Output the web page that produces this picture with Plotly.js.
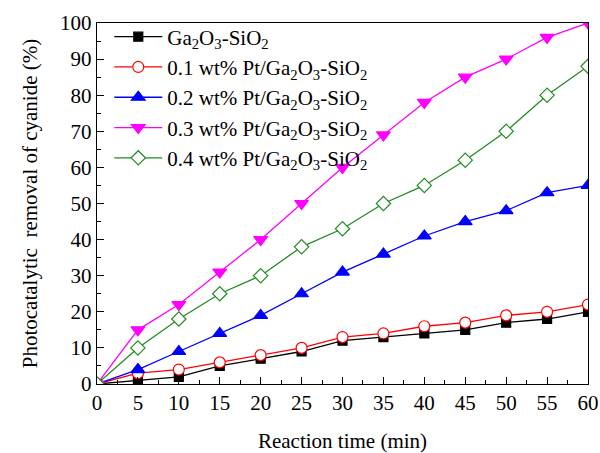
<!DOCTYPE html>
<html>
<head>
<meta charset="utf-8">
<script src="https://cdn.plot.ly/plotly-3.0.1.min.js"></script>
<style>
  html, body { margin: 0; padding: 0; background: #fff; }
  #chart { width: 600px; height: 453px; }
</style>
</head>
<body>
<div id="chart"></div>
<script>
// Reaction time (min)
const time = [0, 5, 10, 15, 20, 25, 30, 35, 40, 45, 50, 55, 60];

// Photocatalytic removal of cyanide (%) for each catalyst
const gaSi   = [0, 1, 2, 5, 7, 9, 12, 13, 14, 15, 17, 18, 20];
const pt01   = [0, 3, 4, 6, 8, 10, 13, 14, 16, 17, 19, 20, 22];
const pt02   = [0, 4, 9, 14, 19, 25, 31, 36, 41, 45, 48, 53, 55];
const pt03   = [0, 15, 22, 31, 40, 50, 60, 69, 78, 85, 90, 96, 100];
const pt04   = [0, 10, 18, 25, 30, 38, 43, 50, 55, 62, 70, 80, 88];

const seriesNames = [
  'Ga<sub>2</sub>O<sub>3</sub>-SiO<sub>2</sub>',
  '0.1 wt% Pt/Ga<sub>2</sub>O<sub>3</sub>-SiO<sub>2</sub>',
  '0.2 wt% Pt/Ga<sub>2</sub>O<sub>3</sub>-SiO<sub>2</sub>',
  '0.3 wt% Pt/Ga<sub>2</sub>O<sub>3</sub>-SiO<sub>2</sub>',
  '0.4 wt% Pt/Ga<sub>2</sub>O<sub>3</sub>-SiO<sub>2</sub>'
];

const xTicks = [0, 5, 10, 15, 20, 25, 30, 35, 40, 45, 50, 55, 60];
const yTicks = [0, 10, 20, 30, 40, 50, 60, 70, 80, 90, 100];

function trace(y, name, color, symbol, size, fill) {
  return {
    x: time, y: y, name: name, type: 'scatter', mode: 'lines+markers',
    cliponaxis: true,
    line: { color: color, width: 1.3 },
    marker: {
      symbol: symbol, size: size, color: fill,
      line: { color: color, width: 1.2 }
    }
  };
}

const data = [
  trace(gaSi, seriesNames[0], '#000000', 'square', 9, '#000000'),
  trace(pt01, seriesNames[1], '#ff0000', 'circle', 11, '#ffffff'),
  trace(pt02, seriesNames[2], '#0000ff', 'triangle-up', 12, '#0000ff'),
  trace(pt03, seriesNames[3], '#ff00ff', 'triangle-down', 12, '#ff00ff'),
  trace(pt04, seriesNames[4], '#228b22', 'diamond', 11, '#ffffff')
];

const font = { family: '"Liberation Serif", "Times New Roman", serif', color: '#000' };
const fs = 21;

const layout = {
  width: 600, height: 453,
  margin: { l: 97, r: 12, t: 23, b: 69 },
  paper_bgcolor: '#fff', plot_bgcolor: '#fff',
  font: Object.assign({ size: fs }, font),
  showlegend: true,
  legend: {
    x: 0.025, y: 1.018, xanchor: 'left', yanchor: 'top',
    bgcolor: 'rgba(0,0,0,0)', borderwidth: 0,
    font: Object.assign({ size: fs }, font),
    tracegroupgap: 0, itemwidth: 48
  },
  xaxis: {
    range: [0, 60], tickvals: xTicks, ticktext: xTicks.map(String),
    ticks: 'inside', ticklen: 7, tickwidth: 1, tickcolor: '#000',
    minor: { dtick: 2.5, ticks: 'inside', ticklen: 4, tickcolor: '#000' },
    showline: true, linecolor: '#000', linewidth: 1.2, mirror: true,
    showgrid: false, zeroline: false,
    tickfont: Object.assign({ size: fs }, font),
    title: { text: 'Reaction time (min)', font: Object.assign({ size: fs }, font), standoff: 19 }
  },
  yaxis: {
    range: [0, 100], tickvals: yTicks, ticktext: yTicks.map(String),
    ticks: 'inside', ticklen: 7, tickwidth: 1, tickcolor: '#000',
    minor: { dtick: 5, ticks: 'inside', ticklen: 4, tickcolor: '#000' },
    showline: true, linecolor: '#000', linewidth: 1.2, mirror: true,
    showgrid: false, zeroline: false,
    tickfont: Object.assign({ size: fs }, font),
    title: { text: 'Photocatalytic  removal of cyanide (%)', font: Object.assign({ size: fs }, font), standoff: 16 }
  }
};

Plotly.newPlot('chart', data, layout, { displayModeBar: false, staticPlot: true });
</script>
</body>
</html>
